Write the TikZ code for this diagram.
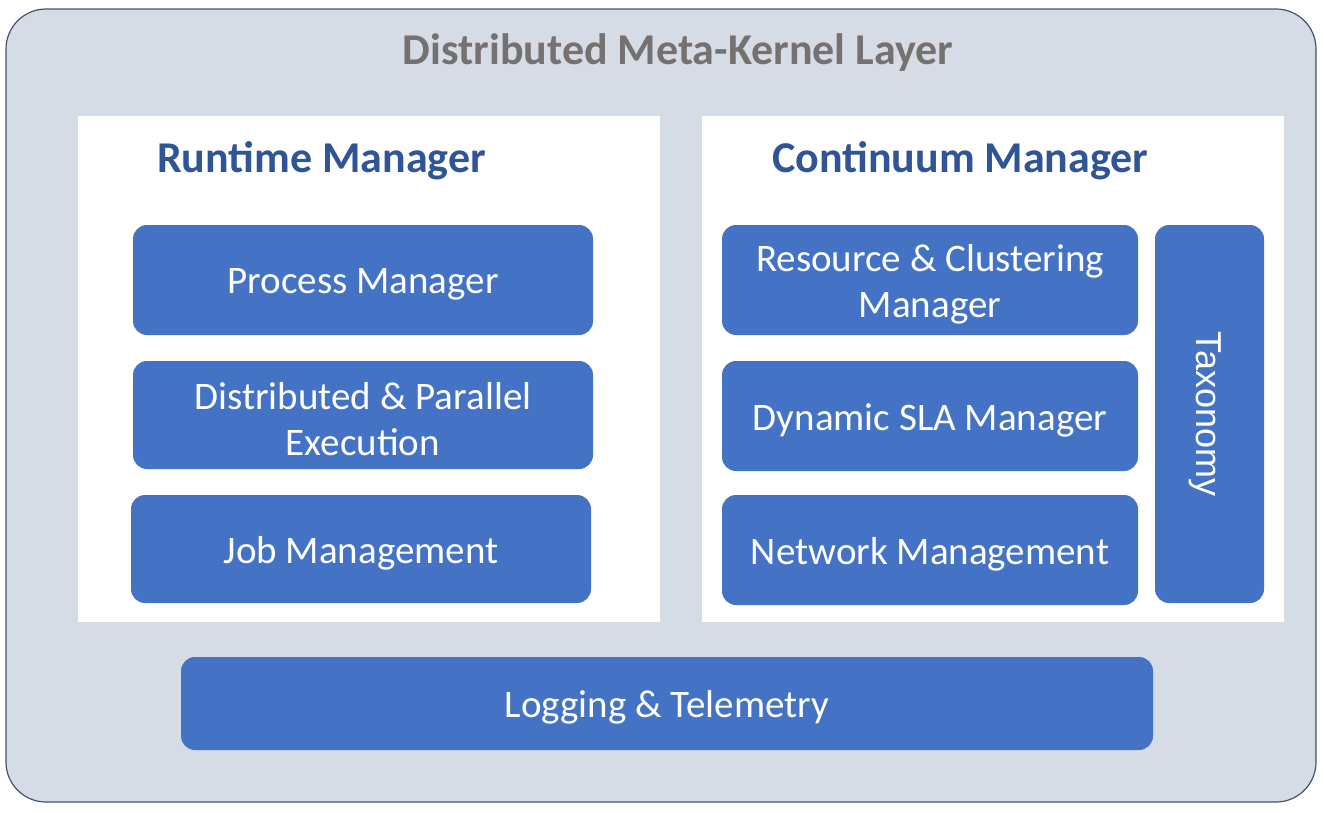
\documentclass[tikz,border=0pt]{standalone}
\usepackage{fontspec}
\setmainfont{Carlito}
\newfontfamily\arialf{Liberation Sans}
\begin{document}
\begin{tikzpicture}[x=1pt,y=-1pt,
  outerbox/.style={line width=1.2pt, fill=layerfill, rounded corners=40pt},
  panel/.style={fill=white, draw=none},
  blk/.style={fill=blkblue, draw=none, rounded corners=14pt, inner sep=0pt,
    label={[text=white, align=center, font=\fontsize{39}{46}\selectfont, inner sep=0pt, yshift=-4pt]center:#1}},
  ptitle/.style={text=titleblue, font=\bfseries\fontsize{44}{50}\selectfont, anchor=west, inner sep=0pt},
]
\definecolor{layerfill}{HTML}{D6DCE5}
\definecolor{blkblue}{HTML}{4472C4}
\definecolor{titleblue}{HTML}{2F5597}
\definecolor{graytext}{HTML}{767171}
\definecolor{borderc}{HTML}{44546A}
\useasboundingbox (0,0) rectangle (1324,812);
\draw[outerbox, draw=borderc] (6,9) rectangle (1316,802);
\node[font=\bfseries\fontsize{44}{50}\selectfont, text=graytext, inner sep=0pt] (title) at (678,53) {Distributed Meta-Kernel Layer};
\node[panel, minimum width=582pt, minimum height=506pt, anchor=north west, inner sep=0pt] (lp) at (78,116) {};
\node[panel, minimum width=582pt, minimum height=506pt, anchor=north west, inner sep=0pt] (rp) at (702,116) {};
\node[ptitle] (rt) at (157,161) {Runtime Manager};
\node[ptitle] (ct) at (772,161) {Continuum Manager};
\node[blk={Process Manager}, minimum width=460pt, minimum height=110pt] (pm) at (363,280) {};
\node[blk={Distributed \& Parallel\\Execution}, minimum width=460pt, minimum height=108pt] (dp) at (363,415) {};
\node[blk={Job Management}, minimum width=460pt, minimum height=108pt] (jm) at (361,549) {};
\node[blk={Resource \& Clustering\\Manager}, minimum width=416pt, minimum height=110pt] (rc) at (930,280) {};
\node[blk={Dynamic SLA Manager}, minimum width=416pt, minimum height=110pt] (sla) at (930,416) {};
\node[blk={Network Management}, minimum width=416pt, minimum height=110pt] (nm) at (930,550) {};
\node[fill=blkblue, draw=none, rounded corners=14pt, inner sep=0pt, minimum width=109pt, minimum height=378pt] (tx) at (1209.5,414) {};
\node[text=white, font=\arialf\fontsize{36}{40}\selectfont, rotate=-90, inner sep=0pt] (txl) at (1205,414) {Taxonomy};
\node[blk={Logging \& Telemetry}, minimum width=972pt, minimum height=93pt] (lt) at (667,703.5) {};
\end{tikzpicture}
\end{document}
